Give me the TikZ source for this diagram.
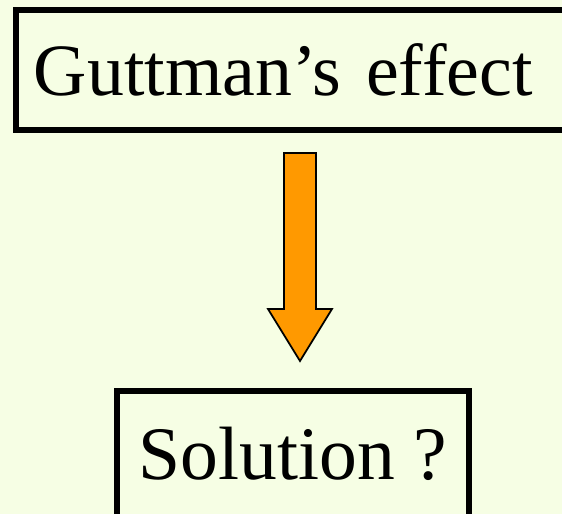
\documentclass[tikz,border=0pt]{standalone}
\usepackage{fontspec}
\setmainfont{Liberation Serif}
\usepackage{xcolor}
\usetikzlibrary{positioning}
\definecolor{paper}{HTML}{F6FEE4}
\definecolor{ink}{HTML}{000000}
\definecolor{flow}{HTML}{FF9900}

\begin{document}
\begin{tikzpicture}[x=0.02cm,y=-0.02cm,every node/.style={font=\fontsize{43}{52}\selectfont,text=ink},
  bx/.style={draw=ink,line width=3.4pt,fill=paper,inner ysep=0pt},
  ar/.style={draw=ink,line width=1pt,fill=flow,line join=miter}]
  \useasboundingbox[fill=paper] (0,0) rectangle (562,514);
  \node[bx,anchor=west,inner xsep=0.36cm,text width=11cm,align=left,minimum height=2.4cm,
    font=\fontsize{42}{50}\selectfont] (effect) at (13,70) {Guttman’s effect};
  \node[bx,minimum width=7.04cm,minimum height=2.52cm] (sol) at (293,454) {Solution ?};
  % block arrow between the two boxes
  \draw[ar] (284,153) -- (316,153) -- (316,309) -- (332,309) -- (300,361)
    -- (268,309) -- (284,309) -- cycle;
\end{tikzpicture}
\end{document}
